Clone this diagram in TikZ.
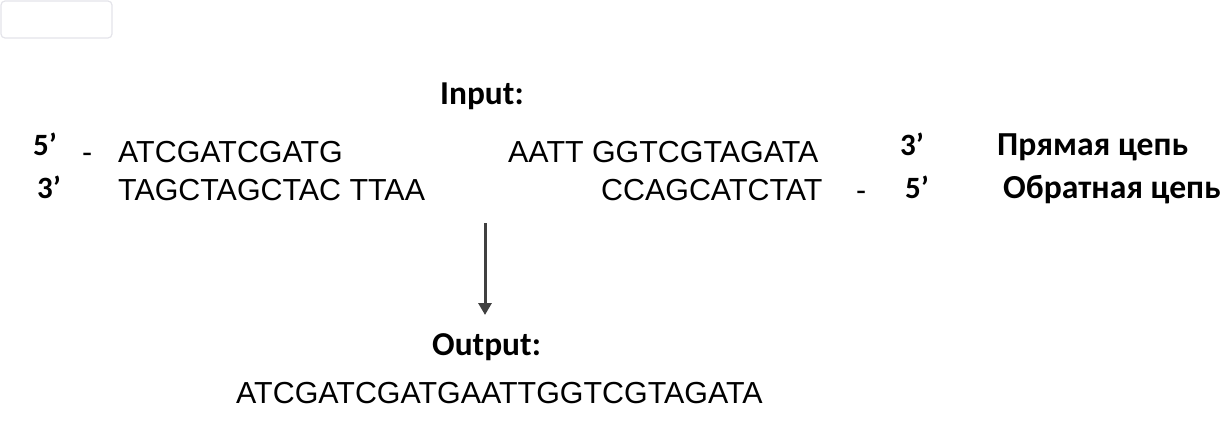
\documentclass[tikz,border=0pt]{standalone}
\usepackage{fontspec}
\setmainfont{Liberation Sans}
\newfontfamily\labelfont{Carlito}
\usetikzlibrary{arrows.meta}
\usetikzlibrary{positioning}
\definecolor{boxgray}{HTML}{E4E4EA}
\definecolor{arrowgray}{HTML}{404040}
\tikzset{
    seq/.style={anchor=base west, inner sep=0pt, font=\fontsize{30.4}{31}\selectfont},
    prime/.style={anchor=base west, inner sep=0pt, font=\labelfont\bfseries\fontsize{31}{32}\selectfont},
    strand/.style={anchor=base west, inner sep=0pt, font=\labelfont\bfseries\fontsize{33.6}{34}\selectfont},
    title/.style={anchor=base west, inner sep=0pt, font=\labelfont\bfseries\fontsize{33.4}{34}\selectfont},
}
\begin{document}
\begin{tikzpicture}[x=1pt,y=-1pt]
            \useasboundingbox (0,0) rectangle (1230,425);
            \draw[boxgray, line width=1.2pt, rounded corners=4pt, fill=white] (1,1) rectangle (112,38);
            % input
            \node[title] (input) at (440,105) {Input:};
            \node[prime] (fiveA) at (33,155) {5’};
            \node[seq] (dashA) at (82,162) {-};
            \node[seq] (leftA) at (118,162) {ATCGATCGATG};
            \node[seq] (rightA) at (508,162) {AATT GGTCGTAGATA};
            \node[prime] (threeA) at (900,155) {3’};
            \node[strand] (fwd) at (997,155) {Прямая цепь};
            \node[prime] (threeB) at (37,198) {3’};
            \node[seq] (leftB) at (118,200) {TAGCTAGCTAC TTAA};
            \node[seq] (rightB) at (601,200) {CCAGCATCTAT};
            \node[seq] (dashB) at (856,200) {-};
            \node[prime] (fiveB) at (905,198) {5’};
            \node[strand] (rev) at (1003,198) {Обратная цепь};
            % output
            \coordinate (top) at (485,223);
            \coordinate (tip) at (485,315);
            \draw[arrowgray, line width=3pt, -{Triangle[width=13pt,length=12pt]}] (top) -- (tip);
            \node[title] (output) at (432,355) {Output:};
            \node[seq] (result) at (236,403) {ATCGATCGATGAATTGGTCGTAGATA};
        \end{tikzpicture}
\end{document}
